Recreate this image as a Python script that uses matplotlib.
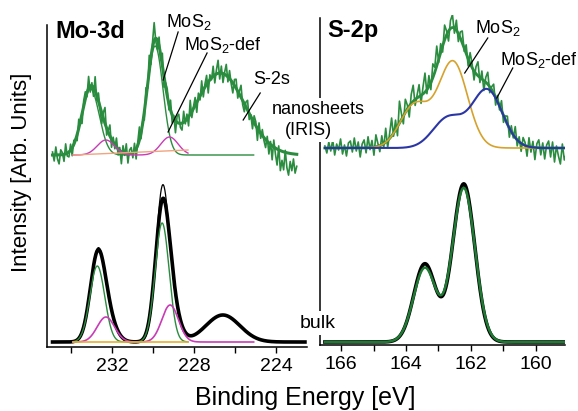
import numpy as np
import matplotlib
matplotlib.use('Agg')
import matplotlib.pyplot as plt
from matplotlib.ticker import MultipleLocator

plt.rcParams['font.family'] = ['Liberation Sans', 'DejaVu Sans']
plt.rcParams['mathtext.fontset'] = 'custom'
plt.rcParams['mathtext.rm'] = 'Liberation Sans'

# **Mo-3d region: nanosheets (IRIS) fit components** (eV, height in arb. units)
mo_nano_mos2_center = [233.05, 229.9]
mo_nano_mos2_height = [66, 109]
mo_nano_mos2_fwhm = [1.0, 0.9]
mo_nano_def_center = [232.3, 229.2]
mo_nano_def_height = [15, 18]
mo_nano_def_fwhm = [1.0, 1.0]
mo_nano_s2s_center = [226.73]
mo_nano_s2s_height = [82]
mo_nano_s2s_fwhm = [2.85]
mo_nano_bg_energy = [233.9, 228.3]
mo_nano_bg_level = [0, 5]
mo_nano_range = [234.9, 223.0]
mo_comp_range = [233.9, 225.1]
# residuals of the measured nanosheet spectrum around the fit
mo_nano_noise = [
    3, -6, 8, -4, -9, 5, 2, -7, 10, -3,
    -5, 6, -8, 4, 1, -6, 9, -2, -10, 5,
    7, -4, 12, -6, 3, -9, 14, -5, 8, -3,
    -11, 6, 16, -7, 2, 11, -8, 5, -4, 9,
    -6, 3, -12, 7, -2, 10, -9, 4, 6, -5,
    8, -10, 3, 13, -6, 2, -8, 11, -4, 15,
    -7, 5, 18, -3, -9, 9, -5, 12, -11, 4,
    7, -6, 10, -8, 3, -12, 6, 9, -4, -7,
    11, -3, 5, -9, 14, -6, 2, 8, -10, 6,
    -4, 12, -7, 3, 9, -11, 5, -2, 10, -8,
    4, 13, -6, 7, -9, 2, 11, -5, 8, -3,
    -10, 6, 9, -7, 3, 12, -4, -8, 5, 10,
    -6, 2, -9, 7, 4, -12, 8, -5, 6, -3,
    -8, 5, -11, 3, -14, 7, -6, -16, 4, -20,
    -9, -18, 2, -15, -22, -8, -17, -5, -19, -12]

# **Mo-3d region: bulk**
mo_bulk_mos2_center = [232.72, 229.56]
mo_bulk_mos2_height = [76, 119]
mo_bulk_mos2_fwhm = [0.85, 0.8]
mo_bulk_meas_height = [78, 133]
mo_bulk_meas_fwhm = [0.85, 0.74]
mo_bulk_def_center = [232.3, 229.17]
mo_bulk_def_height = [25, 37]
mo_bulk_def_fwhm = [1.0, 0.95]
mo_bulk_s2s_center = [226.6]
mo_bulk_s2s_height = [27]
mo_bulk_s2s_fwhm = [1.95]
mo_bulk_bg_energy = [233.9, 228.3]
mo_bulk_bg_level = [0.5, 0.5]
mo_bulk_range = [234.9, 222.6]
mo_bulk_def_range = [233.9, 225.1]
mo_bulk_mos2_range = [233.9, 228.3]

# **S-2p region: nanosheets (IRIS)**
s_nano_mos2_center = [162.55, 163.73]
s_nano_mos2_height = [86, 43]
s_nano_mos2_fwhm = [1.05, 1.05]
s_nano_def_center = [161.5, 162.7]
s_nano_def_height = [58, 30]
s_nano_def_fwhm = [1.1, 1.1]
s_nano_range = [166.5, 159.0]
s_nano_mos2_range = [165.3, 160.0]
s_nano_noise = [
    2, -5, 6, -3, 8, -7, 4, -2, 9, -6,
    3, -8, 5, 7, -4, 10, -3, 6, -9, 4,
    8, -5, 11, -2, 7, -8, 12, 3, -6, 9,
    -4, 14, -7, 5, 18, -3, 10, -9, 22, 6,
    -8, 13, 4, -11, 9, 16, -6, 3, 12, -8,
    7, 19, -4, 11, -7, 14, 5, 20, -3, 9,
    -6, 15, 4, -10, 8, 13, -5, 10, -8, 6,
    12, -3, 9, -7, 11, 4, -9, 7, 14, -5,
    8, -10, 5, 12, -6, 3, 9, -8, 6, -4,
    10, -7, 4, 8, -9, 6, -3, 11, -6, 5,
    -8, 7, 3, -10, 9, -5, 6, -12, 4, 8,
    -7, 5, -11, 3, 7, -9, 6, -14, 2, -8,
    -16, 4, -12, -6, -18]

# **S-2p region: bulk**
s_bulk_center = [162.22, 163.42]
s_bulk_fit_height = [154, 74]
s_bulk_fit_fwhm = [0.82, 0.82]
s_bulk_meas_height = [158, 78]
s_bulk_meas_fwhm = [0.80, 0.80]
s_bulk_range = [166.5, 159.0]

GREEN = '#2a8c3e'
DKGREEN = '#1f7a33'
MAGENTA = '#c83cb6'
GOLD = '#d6a22c'
BLUE = '#2b36a6'
SALMON = '#f2a47e'
YELLOW = '#e6b032'

NANO_MO, BULK_MO = 192, 5
NANO_S, BULK_S = 197, 3


def peaks(e, centers, heights, fwhms):
    """Sum of Gaussian fit components."""
    y = np.zeros_like(e)
    for c, h, w in zip(centers, heights, fwhms):
        s = w / 2.3548
        y += h * np.exp(-(e - c) ** 2 / (2 * s ** 2))
    return y


def grid(rng):
    return np.linspace(rng[0], rng[1], 700)


fig = plt.figure(figsize=(5.78, 4.11), dpi=100)
W, H = 578, 411
ax1 = fig.add_axes([47 / W, (H - 347) / H, 260 / W, 332 / H])
ax2 = fig.add_axes([320 / W, (H - 345) / H, 245 / W, 330 / H])

# ---------- Mo-3d ----------
e = grid(mo_nano_range)
env = (peaks(e, mo_nano_mos2_center, mo_nano_mos2_height, mo_nano_mos2_fwhm)
       + peaks(e, mo_nano_def_center, mo_nano_def_height, mo_nano_def_fwhm)
       + peaks(e, mo_nano_s2s_center, mo_nano_s2s_height, mo_nano_s2s_fwhm))
ed = np.linspace(mo_nano_range[0], mo_nano_range[1], len(mo_nano_noise))
meas = (peaks(ed, mo_nano_mos2_center, mo_nano_mos2_height, mo_nano_mos2_fwhm)
        + peaks(ed, mo_nano_def_center, mo_nano_def_height, mo_nano_def_fwhm)
        + peaks(ed, mo_nano_s2s_center, mo_nano_s2s_height, mo_nano_s2s_fwhm)
        + np.array(mo_nano_noise))
ax1.plot(ed, NANO_MO + meas, color=GREEN, lw=1.2)
ax1.plot(e, NANO_MO + env, color=GREEN, lw=2.2)
ec = grid(mo_comp_range)
ax1.plot(ec, NANO_MO + peaks(ec, mo_nano_mos2_center, mo_nano_mos2_height, mo_nano_mos2_fwhm),
         color=GREEN, lw=1.0)
eb = grid(mo_nano_bg_energy)
ax1.plot(eb, NANO_MO + peaks(eb, mo_nano_def_center, mo_nano_def_height, mo_nano_def_fwhm),
         color=MAGENTA, lw=1.0)
ax1.plot(mo_nano_bg_energy, NANO_MO + np.array(mo_nano_bg_level), color=SALMON, lw=1.0)

e = grid(mo_bulk_range)
fit = (peaks(e, mo_bulk_mos2_center, mo_bulk_mos2_height, mo_bulk_mos2_fwhm)
       + peaks(e, mo_bulk_def_center, mo_bulk_def_height, mo_bulk_def_fwhm)
       + peaks(e, mo_bulk_s2s_center, mo_bulk_s2s_height, mo_bulk_s2s_fwhm))
meas = (peaks(e, mo_bulk_mos2_center, mo_bulk_meas_height, mo_bulk_meas_fwhm)
        + peaks(e, mo_bulk_def_center, mo_bulk_def_height, mo_bulk_def_fwhm)
        + peaks(e, mo_bulk_s2s_center, mo_bulk_s2s_height, mo_bulk_s2s_fwhm))
ax1.plot(e, BULK_MO + fit, color='black', lw=2.6)
ax1.plot(e, BULK_MO + meas, color='black', lw=0.9)
eg = grid(mo_bulk_mos2_range)
ax1.plot(eg, BULK_MO + peaks(eg, mo_bulk_mos2_center, mo_bulk_mos2_height, mo_bulk_mos2_fwhm),
         color=GREEN, lw=1.0)
em = grid(mo_bulk_def_range)
ax1.plot(em, BULK_MO + peaks(em, mo_bulk_def_center, mo_bulk_def_height, mo_bulk_def_fwhm),
         color=MAGENTA, lw=1.2)
ax1.plot(mo_bulk_bg_energy, BULK_MO + np.array(mo_bulk_bg_level), color=YELLOW, lw=1.2)

# ---------- S-2p ----------
e = grid(s_nano_range)
orange = peaks(e, s_nano_mos2_center, s_nano_mos2_height, s_nano_mos2_fwhm)
blue = peaks(e, s_nano_def_center, s_nano_def_height, s_nano_def_fwhm)
ed = np.linspace(s_nano_range[0], s_nano_range[1], len(s_nano_noise))
meas = (peaks(ed, s_nano_mos2_center, s_nano_mos2_height, s_nano_mos2_fwhm)
        + peaks(ed, s_nano_def_center, s_nano_def_height, s_nano_def_fwhm)
        + np.array(s_nano_noise))
ax2.plot(ed, NANO_S + meas, color=GREEN, lw=1.2)
ax2.plot(e, NANO_S + orange + blue, color=GREEN, lw=2.0)
eo = grid(s_nano_mos2_range)
ax2.plot(eo, NANO_S + peaks(eo, s_nano_mos2_center, s_nano_mos2_height, s_nano_mos2_fwhm),
         color=GOLD, lw=1.2)
ax2.plot(e, NANO_S + blue, color=BLUE, lw=1.5)

e = grid(s_bulk_range)
ax2.plot(e, BULK_S + peaks(e, s_bulk_center, s_bulk_meas_height, s_bulk_meas_fwhm),
         color='black', lw=2.6)
ax2.plot(e, BULK_S + peaks(e, s_bulk_center, s_bulk_fit_height, s_bulk_fit_fwhm),
         color=DKGREEN, lw=1.8)

# ---------- axes styling ----------
for ax, lim, top, major, minor in [(ax1, (235.17, 222.5), 322, 4, 2),
                                    (ax2, (166.65, 159.1), 327, 2, 1)]:
    ax.set_xlim(*lim)
    ax.set_ylim(0, 332 if ax is ax1 else 330)
    ax.spines['top'].set_visible(False)
    ax.spines['right'].set_visible(False)
    ax.spines['left'].set_bounds(0, top)
    for sp in ax.spines.values():
        sp.set_linewidth(1.1)
    ax.set_yticks([])
    ax.xaxis.set_major_locator(MultipleLocator(major))
    ax.xaxis.set_minor_locator(MultipleLocator(minor))
    ax.tick_params(axis='x', which='both', direction='out', length=4, width=1,
                   labelsize=14, pad=4)
    ax.set_facecolor('none')

# labels, Mo-3d panel
ax1.text(234.78, 315, 'Mo-3d', fontsize=17, fontweight='bold', ha='left', va='center')
ax1.text(228.24, 325, 'MoS$_2$', fontsize=13, ha='center', va='center')
ax1.plot([228.78, 229.51], [315, 267], color='black', lw=0.9)
ax1.text(226.58, 302, 'MoS$_2$-def', fontsize=13, ha='center', va='center')
ax1.plot([227.37, 229.27], [294, 215], color='black', lw=0.9)
ax1.text(224.24, 267, 'S-2s', fontsize=13, ha='center', va='center')
ax1.plot([224.78, 225.61], [254, 227], color='black', lw=0.9)

# labels, S-2p panel
ax2.text(166.43, 314, 'S-2p', fontsize=17, fontweight='bold', ha='left', va='center')
ax2.text(161.17, 317, 'MoS$_2$', fontsize=13, ha='center', va='center')
ax2.plot([161.48, 162.19], [307, 272], color='black', lw=0.9)
ax2.text(159.9, 285, 'MoS$_2$-def', fontsize=13, ha='center', va='center', clip_on=False)
ax2.plot([160.71, 161.2], [277, 247], color='black', lw=0.9)

box = dict(facecolor='white', edgecolor='none', pad=2.5)
fig.text(318 / W, 1 - 110 / H, 'nanosheets', fontsize=13, ha='center', va='center', bbox=box)
fig.text(308 / W, 1 - 130 / H, '(IRIS)', fontsize=13, ha='center', va='center', bbox=box)
fig.text(318 / W, 1 - 323 / H, 'bulk', fontsize=14, ha='center', va='center', bbox=box)

fig.text(22 / W, 1 - 172 / H, 'Intensity [Arb. Units]', fontsize=16, rotation=90,
         ha='center', va='center')
fig.text(305 / W, 1 - 398 / H, 'Binding Energy [eV]', fontsize=18, ha='center', va='center')

fig.savefig('out.png', dpi=100)
